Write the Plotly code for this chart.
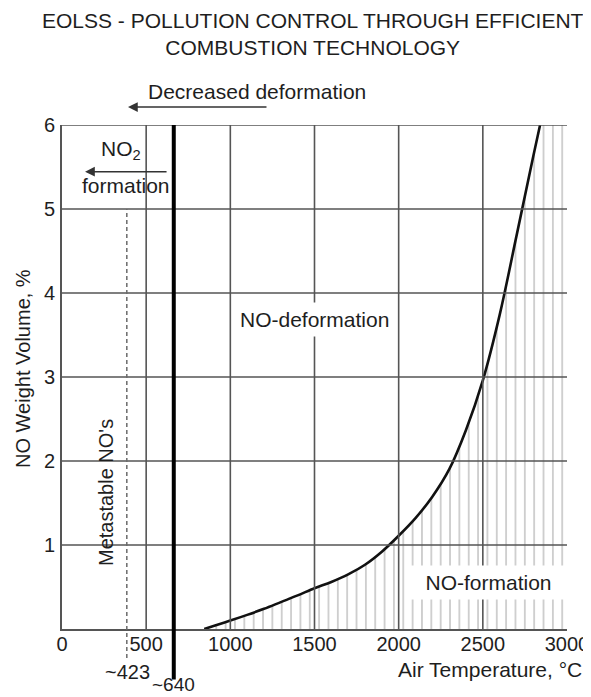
import plotly.graph_objects as go

# ---------------- data ----------------
temp_c = [845, 900, 1000, 1100, 1200, 1300, 1400, 1500, 1600, 1700, 1800,
          1900, 2000, 2100, 2200, 2300, 2400, 2500, 2600, 2700, 2800, 2840]
no_pct = [0.0, 0.035, 0.10, 0.168, 0.24, 0.32, 0.40, 0.485, 0.56, 0.65,
          0.765, 0.92, 1.11, 1.32, 1.575, 1.90, 2.37, 2.96, 3.74, 4.68,
          5.63, 6.0]

x_ticks = [0, 500, 1000, 1500, 2000, 2500, 3000]
x_tick_labels = ["0", "500", "1000", "1500", "2000", "2500", "3000"]
y_ticks = [1, 2, 3, 4, 5, 6]
y_tick_labels = ["1", "2", "3", "4", "5", "6"]

x_range = [0, 3000]
y_range = [0, 6]

metastable_x = 385      # dashed marker line (labelled ~423)
deformation_x = 664     # thick marker line (labelled ~640)
metastable_label = "~423"
deformation_label = "~640"

FONT = "Liberation Sans, Arial, sans-serif"
TXT = "#1e1e1e"
GRID = "#555555"


def xp(v):
    return (v - x_range[0]) / (x_range[1] - x_range[0])


def yp(v):
    return (v - y_range[0]) / (y_range[1] - y_range[0])


fig = go.Figure()

# hatched region (under / right of the curve)
fig.add_trace(go.Scatter(
    x=temp_c + [x_range[1], x_range[1]],
    y=no_pct + [y_range[1], y_range[0]],
    mode="lines", line=dict(width=0, color="rgba(0,0,0,0)"),
    fill="toself", fillcolor="rgba(0,0,0,0)",
    fillpattern=dict(shape="|", size=9.35, solidity=0.17,
                     fgcolor="#c6c6c6", bgcolor="rgba(0,0,0,0)",
                     fillmode="replace"),
    hoverinfo="skip", showlegend=False))

# NO curve
fig.add_trace(go.Scatter(
    x=temp_c, y=no_pct, mode="lines",
    line=dict(color="#111111", width=2.6, shape="spline", smoothing=1.0),
    showlegend=False))

shapes = []
for xv in x_ticks[1:-1]:
    shapes.append(dict(type="line", xref="x", yref="y", x0=xv, x1=xv,
                       y0=y_range[0], y1=y_range[1], layer="above",
                       line=dict(color=GRID, width=1.6)))
for yv in y_ticks:
    shapes.append(dict(type="line", xref="x", yref="y", x0=x_range[0],
                       x1=x_range[1], y0=yv, y1=yv, layer="above",
                       line=dict(color=GRID, width=1.6)))
shapes.append(dict(type="line", xref="x", yref="paper",
                   x0=deformation_x, x1=deformation_x,
                   y0=yp(-0.60), y1=yp(6), layer="above",
                   line=dict(color="#000000", width=4)))
shapes.append(dict(type="line", xref="x", yref="paper",
                   x0=metastable_x, x1=metastable_x,
                   y0=yp(-0.345), y1=yp(5), layer="above",
                   line=dict(color="#6a6a6a", width=1.5, dash="4px,3px")))

ann = []


def txt(x, y, s, size=21, **kw):
    d = dict(x=xp(x), y=yp(y), xref="paper", yref="paper", text=s,
             showarrow=False, font=dict(family=FONT, size=size, color=TXT),
             xanchor="center", yanchor="middle")
    d.update(kw)
    ann.append(d)


# title
ann.append(dict(xref="paper", yref="paper",
                x=(312.5 - 62) / 505, y=(629 - 34) / 504,
                text="EOLSS - POLLUTION CONTROL THROUGH EFFICIENT<br>COMBUSTION TECHNOLOGY",
                showarrow=False, xanchor="center", yanchor="middle",
                font=dict(family=FONT, size=21, color=TXT)))

txt(1158, 6.393, "Decreased deformation")
txt(350, 5.70, "NO<sub>2</sub>")
txt(380, 5.274, "formation")
txt(1500, 3.69, "NO-deformation", bgcolor="white", borderpad=5)
txt(2534, 0.548, "NO-formation", bgcolor="white", borderpad=5, width=155)
txt(262, 1.62, "Metastable NO's", size=20, textangle=-90)
txt(389, -0.506, metastable_label, size=20)
txt(665, -0.665, deformation_label, size=19, borderpad=0)
txt(2545, -0.488, "Air Temperature, °C")
txt(-232, 3.107, "NO Weight Volume, %", size=20, textangle=-90)

# arrows (head at x/y, tail offset in pixels)
ann.append(dict(x=xp(392), y=yp(6.214), xref="paper", yref="paper",
                ax=140, ay=0, text="", showarrow=True,
                arrowhead=2, arrowsize=1.3, arrowwidth=1.5,
                arrowcolor="#333333", standoff=0))
ann.append(dict(x=137, y=5.444, ax=630, ay=5.444, xref="x", yref="y",
                axref="x", ayref="y", text="", showarrow=True,
                arrowhead=2, arrowsize=1.3, arrowwidth=1.5,
                arrowcolor="#333333", standoff=0))

# page body has an 8px margin, so the figure is 8px smaller
fig.update_layout(
    width=583, height=689,
    margin=dict(l=54, r=24, t=117, b=68, autoexpand=False),
    paper_bgcolor="white", plot_bgcolor="white",
    shapes=shapes, annotations=ann,
    font=dict(family=FONT, size=20, color=TXT),
    xaxis=dict(range=x_range, tickvals=x_ticks, ticktext=x_tick_labels,
               showgrid=False, zeroline=False, showline=True,
               automargin=False, ticklabelstandoff=-4,
               linecolor=GRID, linewidth=1.6, ticks="",
               tickfont=dict(family=FONT, size=20, color=TXT)),
    yaxis=dict(range=y_range, tickvals=y_ticks, ticktext=y_tick_labels,
               showgrid=False, zeroline=False, showline=True,
               automargin=False, ticklabelstandoff=1,
               linecolor=GRID, linewidth=1.6, ticks="",
               tickfont=dict(family=FONT, size=20, color=TXT)),
)

fig.write_html("out.html")
